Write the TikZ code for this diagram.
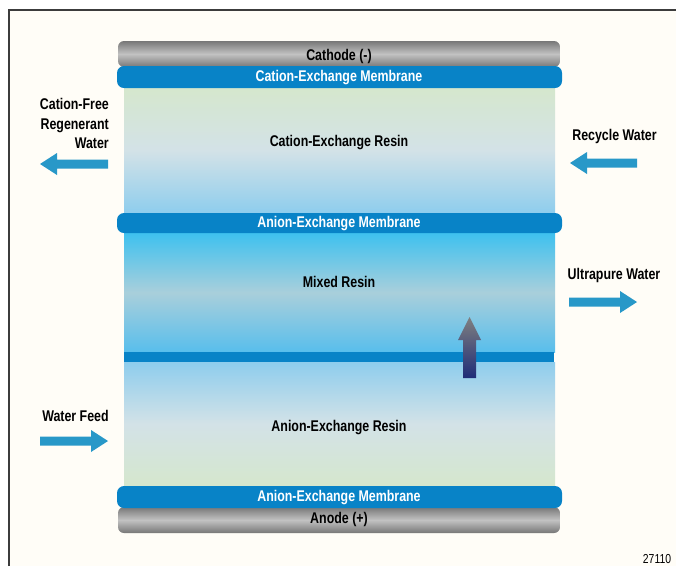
\documentclass[tikz,border=0pt]{standalone}
\usepackage{fontspec}
\setmainfont{Liberation Sans}[FakeStretch=0.8]
\definecolor{memb}{HTML}{0883C7}
\definecolor{bgcream}{HTML}{FFFDF7}
\definecolor{framec}{HTML}{3C3C3C}
\definecolor{resgreen}{HTML}{D5E7CD}
\definecolor{resmid}{HTML}{D3E2E7}
\definecolor{resblue}{HTML}{8ECDED}
\definecolor{mixtop}{HTML}{3EC1EF}
\definecolor{mixmid}{HTML}{A9CFDB}
\definecolor{mixbot}{HTML}{58BEEC}
\definecolor{arrowblue}{HTML}{2898C8}
\definecolor{elecdark}{HTML}{777777}
\definecolor{eleclight}{HTML}{C2C2C2}
\definecolor{navy}{HTML}{1F2C78}
\begin{document}
\begin{tikzpicture}[x=1pt,y=-1pt,
  lbl/.style={font=\fontsize{15.5}{19.5}\selectfont\bfseries, inner sep=0pt, text=black},
  wlbl/.style={lbl, text=white},
  block/.style={minimum width=431pt, inner sep=0pt, draw=none},
  membrane/.style={fill=memb, rounded corners=7pt, minimum width=445pt, inner sep=0pt, draw=none},
  electrode/.style={top color=elecdark, bottom color=elecdark, middle color=eleclight, rounded corners=6pt, minimum width=442pt, minimum height=26pt, inner sep=0pt, draw=none},
  flowarrow/.style={fill=arrowblue}
]
\useasboundingbox (0,0) rectangle (676,566);
\fill[white] (0,0) rectangle (676,566);
\fill[bgcream] (9,10) rectangle (676,566);
\draw[framec, line width=2pt] (8.5,566) -- (8.5,9.5) -- (676,9.5);

% resin blocks
\node[block, minimum height=125pt, top color=resgreen, bottom color=resblue, middle color=resmid] (cres) at (339.5,150.5) {};
\node[block, minimum height=119pt, top color=mixtop, bottom color=mixbot, middle color=mixmid] (mres) at (339.5,292.5) {};
\node[block, minimum height=124pt, top color=resblue, bottom color=resgreen, middle color=resmid] (ares) at (339.5,424) {};
\node[fill=memb, minimum width=430pt, minimum height=10pt, inner sep=0pt] (divider) at (339,357) {};

% electrodes
\node[electrode] (cathode) at (339,54) {};
\node[electrode] (anode) at (339,520) {};

% membranes
\node[membrane, minimum height=22pt] (cem) at (339.5,77) {};
\node[membrane, minimum height=20pt] (aem1) at (339.5,223) {};
\node[membrane, minimum height=22pt] (aem2) at (339.5,497) {};

% labels
\node[lbl] (tcath) at (339,56.5) {Cathode (-)};
\node[wlbl] (tcem) at (339,77.5) {Cation-Exchange Membrane};
\node[lbl] (tcres) at (339,142.5) {Cation-Exchange Resin};
\node[wlbl] (taem1) at (339,223.5) {Anion-Exchange Membrane};
\node[lbl] (tmres) at (339,281.5) {Mixed Resin};
\node[lbl] (tares) at (339,427.5) {Anion-Exchange Resin};
\node[wlbl] (taem2) at (339,497.5) {Anion-Exchange Membrane};
\node[lbl] (tanode) at (339,519.5) {Anode (+)};

\node[lbl, align=right, anchor=east] (tfree) at (109,123.5) {Cation-Free\\Regenerant\\Water};
\node[lbl] (trecyc) at (614.5,136.5) {Recycle Water};
\node[lbl] (tultra) at (614,275.5) {Ultrapure Water};
\node[lbl] (tfeed) at (75.5,415.5) {Water Feed};
\node[font=\fontsize{13}{15}\selectfont, inner sep=0pt] (tnum) at (657,559) {27110};

% flow arrows
\fill[flowarrow] (40,164) -- (57,153) -- (57,159.5) -- (108,159.5) -- (108,168.5) -- (57,168.5) -- (57,175) -- cycle;
\fill[flowarrow] (570,163) -- (587,152) -- (587,158.5) -- (637,158.5) -- (637,167.5) -- (587,167.5) -- (587,174) -- cycle;
\fill[flowarrow] (637,302) -- (620,291) -- (620,297.5) -- (569,297.5) -- (569,306.5) -- (620,306.5) -- (620,313) -- cycle;
\fill[flowarrow] (108,441) -- (91,430) -- (91,436.5) -- (40,436.5) -- (40,445.5) -- (91,445.5) -- (91,452) -- cycle;

% upward arrow
\shade[top color=gray, bottom color=navy] (469.5,317) -- (481,340) -- (476,340) -- (476,378) -- (463,378) -- (463,340) -- (458,340) -- cycle;
\end{tikzpicture}
\end{document}
